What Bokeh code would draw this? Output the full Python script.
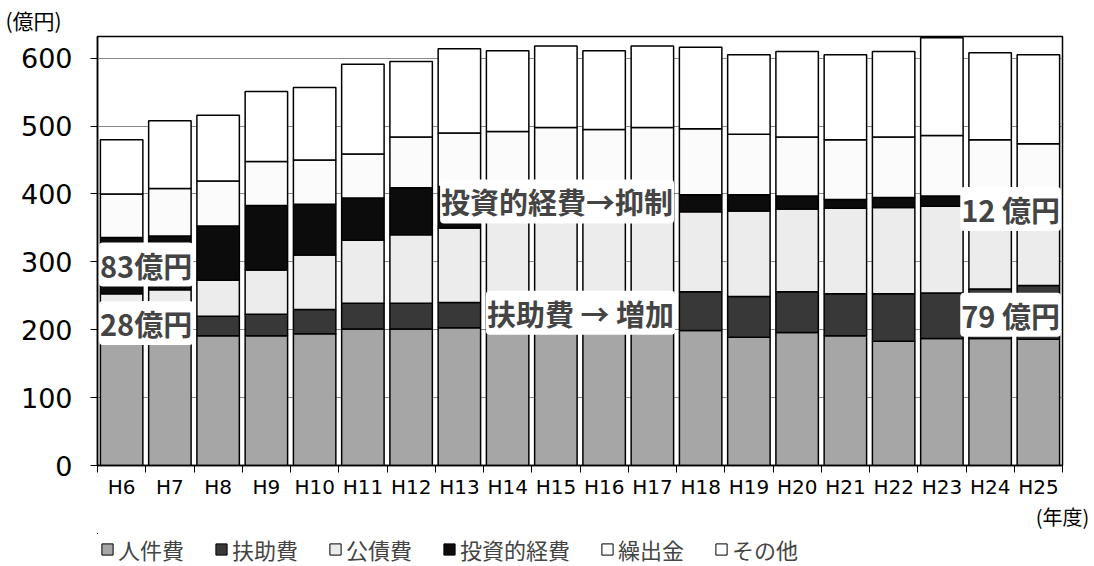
from bokeh.plotting import figure
from bokeh.layouts import column
from bokeh.models import Range1d, FixedTicker, Label, ColumnDataSource, Legend, LegendItem, Title
from bokeh.embed import file_html
from bokeh.resources import INLINE

years = ["H6", "H7", "H8", "H9", "H10", "H11", "H12", "H13", "H14", "H15",
         "H16", "H17", "H18", "H19", "H20", "H21", "H22", "H23", "H24", "H25"]
jinken = [187, 187, 191, 191, 194, 201, 201, 203, 200, 196, 201, 200, 199, 189, 196, 191, 183, 187, 187, 186]
fujo = [28, 28, 29, 32, 36, 38, 38, 37, 50, 56, 52, 54, 57, 60, 60, 62, 70, 67, 73, 79]
kousai = [38, 44, 53, 65, 80, 93, 101, 110, 118, 120, 118, 118, 118, 126, 122, 126, 127, 128, 120, 108]
toushi = [83, 79, 80, 95, 75, 62, 69, 61, 32, 28, 27, 27, 25, 24, 19, 13, 15, 15, 10, 12]
kuridashi = [64, 70, 66, 65, 65, 65, 75, 79, 92, 98, 97, 99, 97, 89, 87, 88, 89, 89, 90, 89]
sonota = [80, 100, 97, 103, 107, 132, 111, 124, 119, 120, 116, 120, 120, 117, 126, 125, 126, 144, 128, 131]

series_names = ["人件費", "扶助費", "公債費", "投資的経費", "繰出金", "その他"]
keys = ["jinken", "fujo", "kousai", "toushi", "kuridashi", "sonota"]
colors = ["#a6a6a6", "#383838", "#ececec", "#0c0c0c", "#fbfbfb", "#ffffff"]

xpos = [i + 0.5 for i in range(len(years))]
src = ColumnDataSource(dict(x=xpos, jinken=jinken, fujo=fujo, kousai=kousai,
                            toushi=toushi, kuridashi=kuridashi, sonota=sonota))

p = figure(width=1094, height=533, output_backend="svg", toolbar_location=None,
           x_range=Range1d(0, len(years)), y_range=Range1d(0, 632),
           min_border_left=97, min_border_right=32, min_border_top=36, min_border_bottom=56)

rs = p.vbar_stack(keys, x="x", width=0.88, source=src, color=colors,
                  line_color="black", line_width=1.5)

# axes
p.yaxis.ticker = FixedTicker(ticks=[0, 100, 200, 300, 400, 500, 600])
p.yaxis.major_label_text_font = "DejaVu Sans"
p.yaxis.major_label_text_font_size = "27px"
p.yaxis.major_label_text_color = "black"
p.yaxis.major_tick_out = 7
p.yaxis.major_tick_in = 0
p.yaxis.minor_tick_out = 0
p.yaxis.major_label_standoff = 18
p.yaxis.axis_line_color = "black"
p.yaxis.axis_line_width = 1.5

p.xaxis.ticker = FixedTicker(ticks=xpos, minor_ticks=list(range(len(years) + 1)))
p.xaxis.major_label_overrides = {x: y for x, y in zip(xpos, years)}
p.xaxis.major_label_text_font = "DejaVu Sans"
p.xaxis.major_label_text_font_size = "20px"
p.xaxis.major_label_text_color = "black"
p.xaxis.major_tick_out = 0
p.xaxis.major_tick_in = 0
p.xaxis.minor_tick_out = 7
p.xaxis.minor_tick_in = 0
p.xaxis.major_label_standoff = 2
p.xaxis.axis_line_color = "black"
p.xaxis.axis_line_width = 1.5
p.xaxis.axis_label = "(年度)"
p.xaxis.axis_label_align = "end"
p.xaxis.axis_label_standoff = 0
p.xaxis.axis_label_text_font = "Noto Sans CJK JP"
p.xaxis.axis_label_text_font_size = "20px"
p.xaxis.axis_label_text_font_style = "normal"
p.xaxis.axis_label_text_color = "black"

p.xgrid.grid_line_color = None
p.ygrid.grid_line_color = "#8a8a8a"
p.ygrid.grid_line_width = 1
p.outline_line_color = "black"
p.outline_line_width = 1.5
p.background_fill_color = "white"

# unit label (outside the frame)
p.add_layout(Title(text="(億円)", align="left", offset=-92, standoff=0, vertical_align="top",
                   text_font="Noto Sans CJK JP", text_font_size="21px",
                   text_font_style="normal", text_color="black"), "above")

# annotations
ann = [
    (0.03, 296, "83億円", "left"),
    (0.03, 210, "28億円", "left"),
    (7.1, 389, "投資的経費→抑制", "left"),
    (8.05, 225, "扶助費 → 増加", "left"),
    (19.97, 378, "12 億円", "right"),
    (19.97, 222, "79 億円", "right"),
]
for ax, ay, t, al in ann:
    p.add_layout(Label(x=ax, y=ay, text=t, text_font="Noto Sans CJK JP",
                       text_font_size="29px", text_font_style="bold",
                       text_baseline="middle", text_align=al,
                       background_fill_color="white", background_fill_alpha=1.0,
                       padding=1, border_radius=4))

# legend strip below the chart (its bars sit far outside the view, only the legend shows)
lf = figure(width=1094, height=33, output_backend="svg", toolbar_location=None,
            x_range=Range1d(1000, 1020), y_range=Range1d(-2000, -1990),
            x_axis_location=None, y_axis_location=None,
            min_border_left=97, min_border_right=32, min_border_top=0, min_border_bottom=0)
lf.outline_line_color = None
lf.grid.visible = False
lrs = lf.vbar_stack(keys, x="x", width=0.88, source=src, color=colors,
                    line_color="black", line_width=1)
lg = Legend(items=[LegendItem(label=n, renderers=[r]) for n, r in zip(series_names, lrs)],
            orientation="horizontal", location=(3, 1),
            label_text_font="Noto Sans CJK JP", label_text_font_size="22px",
            label_height=24, glyph_width=14, glyph_height=14, label_standoff=4, spacing=30,
            padding=0, margin=0, border_line_color=None, background_fill_alpha=0)
lf.add_layout(lg)

open("out.html", "w").write(file_html(column(p, lf), INLINE))
